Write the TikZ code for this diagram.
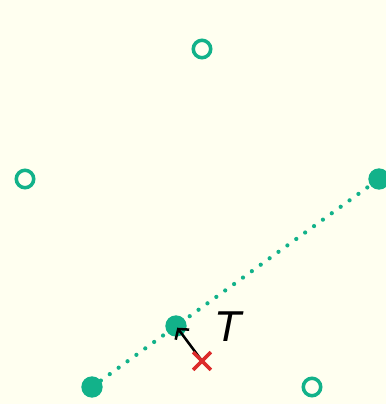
\documentclass[tikz,border=0pt]{standalone}
\usepackage{fontspec}
\setsansfont{DejaVu Sans}
\usetikzlibrary{arrows.meta,shapes.misc,backgrounds}
\definecolor{bgivory}{RGB}{255,255,240}
\definecolor{ptteal}{RGB}{18,178,138}
\definecolor{crossred}{RGB}{220,44,44}

\begin{document}
\begin{tikzpicture}[x=0.025cm,y=-0.025cm,
    openpt/.style={draw=ptteal,circle,line width=2.5pt,minimum size=12.4pt,inner sep=0pt},
    fillpt/.style={circle,fill=ptteal,minimum size=15.2pt,inner sep=0pt},
    cross/.style={cross out,draw=crossred,line width=2.5pt,minimum size=10pt,inner sep=0pt}]
          \useasboundingbox (0,0) rectangle (386,404);

          \node[openpt] (O1) at (202,49) {};
          \node[openpt] (O2) at (25,179) {};
          \node[openpt] (O3) at (312,387) {};
          \node[fillpt] (F1) at (92,387) {};
          \node[fillpt] (F2) at (176,326) {};
          \node[fillpt] (F3) at (379,179) {};
          \node[cross] (X) at (202,361) {};
          \node[font=\sffamily\itshape\fontsize{29}{31}\selectfont] (T) at (229,327) {T};

          \begin{pgfonlayer}{background}
            \fill[bgivory] (0,0) rectangle (386,404);
            \draw[ptteal,line width=3pt,line cap=round,dash pattern=on 0pt off 7.8pt] (F1.center) -- (F3.center);
          \end{pgfonlayer}

          \draw[-{Straight Barb[length=5pt,width=12pt]},line width=1.8pt,shorten >=1.5pt] (X.center) -- (F2.center);
          \node[cross] at (X) {};
        \end{tikzpicture}
\end{document}
